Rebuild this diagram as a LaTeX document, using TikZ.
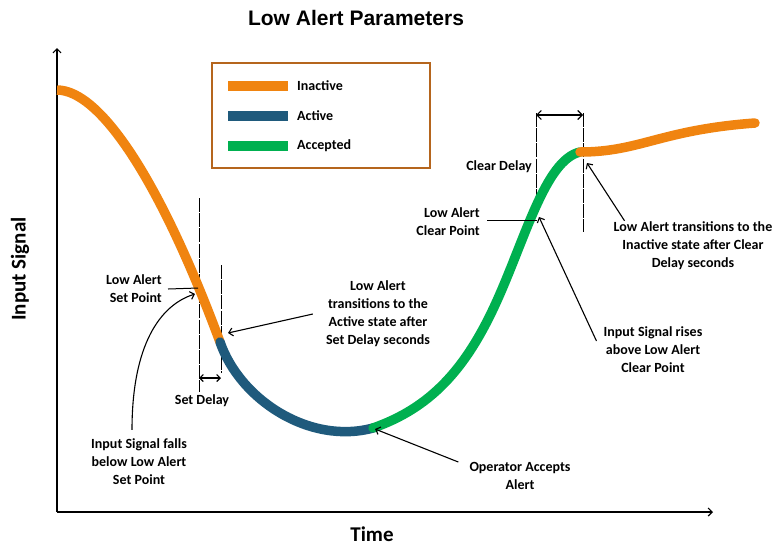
\documentclass[tikz,border=0pt]{standalone}
\usepackage{fontspec}
\setmainfont{Carlito}
\newfontfamily\titlefont{Liberation Sans}
\usetikzlibrary{arrows.meta}
\definecolor{cinactive}{HTML}{F08410}
\definecolor{cactive}{HTML}{1F5A7C}
\definecolor{caccepted}{HTML}{00B050}
\definecolor{cbrown}{HTML}{B5651D}
\tikzset{
  curveseg/.style={line width=9.5pt, line cap=round, line join=round},
  thin/.style={line width=1pt, black},
  guide/.style={line width=1pt, black, dash pattern=on 14pt off 1.2pt},
  arr/.style={line width=1.1pt, black, -{Straight Barb[length=4pt,width=8pt]}},
  dblarr/.style={line width=1.1pt, black, {Straight Barb[length=3.5pt,width=7pt]}-{Straight Barb[length=3.5pt,width=7pt]}},
  lbl/.style={font=\bfseries\fontsize{14}{18}\selectfont, inner sep=1pt, align=center},
  legtxt/.style={font=\bfseries\fontsize{14}{18}\selectfont, inner sep=0pt, anchor=west},
  legline/.style={line width=10pt},
}
\begin{document}
\begin{tikzpicture}[x=1pt,y=-1pt]
\useasboundingbox (0,0) rectangle (778,550);
% title
\node[font=\titlefont\bfseries\fontsize{21}{24}\selectfont] (title) at (356,18) {Low Alert Parameters};
% axes
\coordinate (origin) at (57,512);
\coordinate (ytip) at (57,48);
\coordinate (xtip) at (713,512);
\draw[arr, line width=1.2pt] (origin) -- (ytip);
\draw[arr, line width=1.2pt] (origin) -- (xtip);
\node[font=\bfseries\fontsize{21}{24}\selectfont, rotate=90] (ylab) at (20,269) {Input Signal};
\node[font=\bfseries\fontsize{21}{24}\selectfont] (xlab) at (372,534) {Time};
% legend
\node[draw=cbrown, line width=2.5pt, minimum width=218pt, minimum height=105pt, inner sep=0pt] (legend) at (321,115.5) {};
\coordinate (l1a) at (228,86); \coordinate (l1b) at (288,86);
\coordinate (l2a) at (228,116); \coordinate (l2b) at (288,116);
\coordinate (l3a) at (228,146); \coordinate (l3b) at (288,146);
\draw[legline, cinactive] (l1a) -- (l1b);
\draw[legline, cactive] (l2a) -- (l2b);
\draw[legline, caccepted] (l3a) -- (l3b);
\node[legtxt] (t1) at (297,86) {Inactive};
\node[legtxt] (t2) at (297,116) {Active};
\node[legtxt] (t3) at (297,146) {Accepted};
% guide lines
\coordinate (sp1a) at (199,198); \coordinate (sp1b) at (199,392);
\coordinate (sp2a) at (221,265); \coordinate (sp2b) at (221,373);
\coordinate (cl1a) at (536,113); \coordinate (cl1b) at (536,216);
\coordinate (cl2a) at (583,113); \coordinate (cl2b) at (583,232);
\draw[guide] (sp1a) -- (sp1b);
\draw[guide] (sp2a) -- (sp2b);
\draw[guide] (cl1a) -- (cl1b);
\draw[guide] (cl2a) -- (cl2b);
% curve
\coordinate (c0) at (57,90);
\coordinate (c1) at (220,342);
\coordinate (c2) at (373,428);
\coordinate (c3) at (580,152);
\coordinate (c4) at (755,123);
\draw[curveseg, cinactive, line cap=butt] (c0) .. controls (100,90) and (160,180) .. (c1);
\draw[curveseg, cactive] (c1) .. controls (240,400) and (310,445) .. (c2);
\draw[curveseg, caccepted] (c2) .. controls (430,408) and (465,370) .. (495,305) .. controls (525,240) and (545,160) .. (c3);
\draw[curveseg, cinactive] (c3) .. controls (640,152) and (660,130) .. (c4);
% key points
\coordinate (setpt) at (198,288);
\coordinate (fallsend) at (195,294);
\coordinate (activept) at (228,333);
\coordinate (acceptpt) at (375,429);
\coordinate (clearpt) at (537,220);
\coordinate (risesend) at (539,217);
\coordinate (inactivept) at (587,163);
% delay arrows
\coordinate (sda) at (199,378); \coordinate (sdb) at (221,378);
\draw[dblarr] (sda) -- (sdb);
\coordinate (cda) at (536,115); \coordinate (cdb) at (583,115);
\draw[dblarr, {Straight Barb[length=4.5pt,width=9pt]}-{Straight Barb[length=4.5pt,width=9pt]}] (cda) -- (cdb);
% labels
\node[lbl, align=right, anchor=east] (splbl) at (163,289) {Low Alert\\Set Point};
\draw[thin] ([xshift=5pt]splbl.east) -- (setpt);
\node[lbl] (falls) at (139,462) {Input Signal falls\\below Low Alert\\Set Point};
\draw[arr] ([xshift=-7pt,yshift=8pt]falls.north) .. controls (132,345) and (160,305) .. (fallsend);
\node[lbl] (setdelay) at (202,401) {Set Delay};
\node[lbl] (trans1) at (378,314) {Low Alert\\transitions to the\\Active state after\\Set Delay seconds};
\draw[arr] ([xshift=-12pt]trans1.west) -- (activept);
\node[lbl] (accepts) at (520,476) {Operator Accepts\\Alert};
\draw[arr] ([xshift=-10pt,yshift=14pt]accepts.west) -- (acceptpt);
\node[lbl] (rises) at (653,350) {Input Signal rises\\above Low Alert\\Clear Point};
\draw[arr] ([xshift=-6pt,yshift=9pt]rises.west) -- (risesend);
\node[lbl, align=right, anchor=east] (cplbl) at (481,222) {Low Alert\\Clear Point};
\draw[thin] ([xshift=6pt,yshift=2pt]cplbl.east) -- (clearpt);
\node[lbl, anchor=east] (cdlbl) at (533,167) {Clear Delay};
\node[lbl] (trans2) at (693,246) {Low Alert transitions to the\\Inactive state after Clear\\Delay seconds};
\draw[arr] ([xshift=12pt]trans2.north west) -- (inactivept);
\end{tikzpicture}
\end{document}
